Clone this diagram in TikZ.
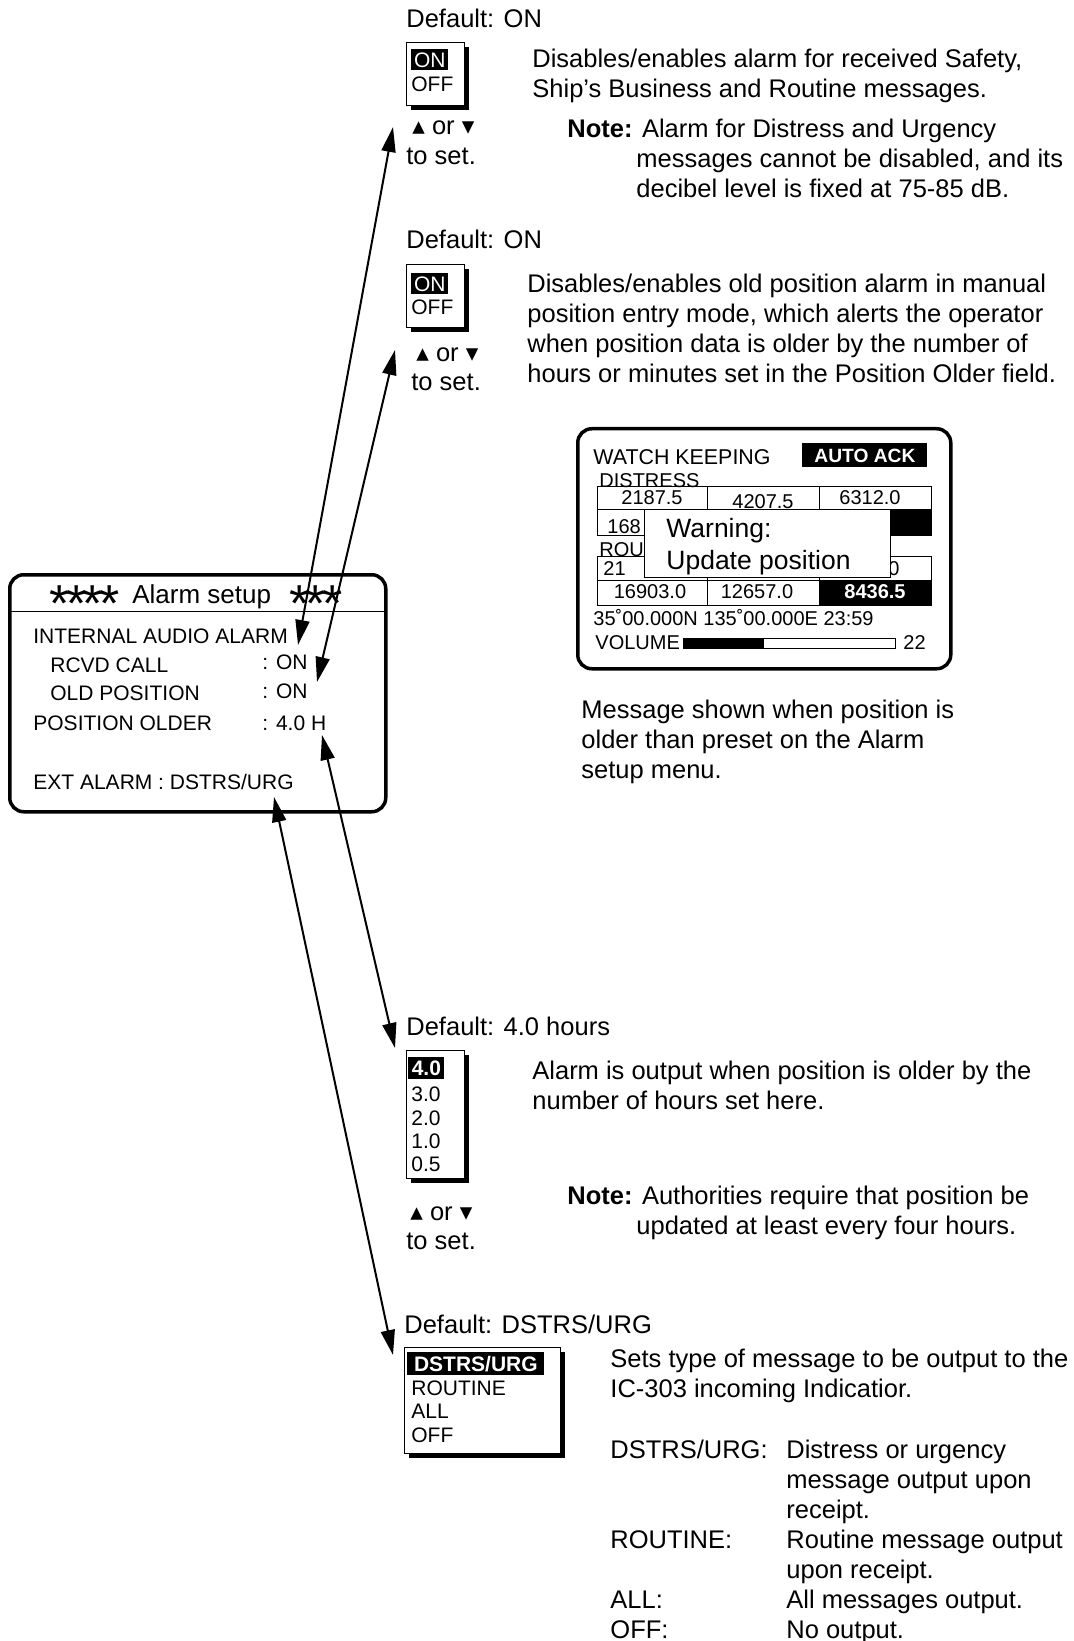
\documentclass[tikz,border=0pt]{standalone}
\usepackage{fontspec}
\setmainfont{Liberation Sans}
\newfontfamily\symfont{DejaVu Sans}
\usepackage{tikz}
\usetikzlibrary{arrows.meta, shadows}

\newcommand\upk{{\symfont\fontsize{12.5}{12.5}\selectfont ▴}}
\newcommand\dnk{{\symfont\fontsize{12.5}{12.5}\selectfont ▾}}
\newcommand\alstar{\makebox[8.35pt]{\smash{\raisebox{-9.4pt}{\fontsize{26}{26}\selectfont *}}}}

\begin{document}
\begin{tikzpicture}[
    x=0.5pt, y=-0.5pt,
    txt/.style={anchor=base west, inner sep=0pt, align=left,
                font=\fontsize{12.75}{15}\selectfont},
    scr/.style={anchor=base west, inner sep=0pt, font=\fontsize{10.5}{12}\selectfont},
    lcd/.style={anchor=base west, inner sep=0pt, font=\fontsize{10}{12}\selectfont},
    lcdc/.style={lcd, anchor=base},
    menu/.style={draw, line width=0.6pt, fill=white, anchor=north west, inner sep=0pt,
                 drop shadow={shadow xshift=2.2pt, shadow yshift=-2.2pt, fill=black, opacity=1}},
    hil/.style={fill=black, text=white, anchor=north west, inner sep=0pt,
                font=\fontsize{10.5}{12}\selectfont},
    panel/.style={draw, line width=1.75pt, rounded corners=7pt, anchor=north west, inner sep=0pt},
    arr/.style={{Triangle[length=12.5pt,width=7pt]}-{Triangle[length=12.5pt,width=7pt]}, line width=1pt}
]
\useasboundingbox (0,0) rectangle (1074,1641);

% alarm setup menu
\node[panel, minimum width=188pt, minimum height=118.5pt] (alarmbox) at (8,573) {};
\node[anchor=base west, inner sep=0pt, font=\fontsize{13}{15}\selectfont] (title) at (50.7,603)
    {\alstar\alstar\alstar\alstar\hspace{7.2pt}Alarm setup\hspace{10pt}\alstar\alstar\alstar};
\draw[line width=0.5pt] (8,611) -- (384,611);
\node[scr] (internal) at (33,643.5) {INTERNAL AUDIO ALARM};
\node[scr] (rcvd) at (50,672.5) {RCVD CALL};
\node[scr] (rcvdval) at (262,669.5) {: ON};
\node[scr] (oldpos) at (50,700.5) {OLD POSITION};
\node[scr] (oldposval) at (262,698.5) {: ON};
\node[scr] (older) at (33,730.5) {POSITION OLDER};
\node[scr] (olderval) at (262,730.5) {: 4.0 H};
\node[scr] (ext) at (33,789.5) {EXT ALARM : DSTRS/URG};

% rcvd call
\node[txt] (def1) at (406,28) {Default: ON};
\node[menu, minimum width=29pt, minimum height=31.5pt] (menu1) at (406,42) {};
\node[hil, minimum width=18.5pt, minimum height=10.5pt] (on1) at (411,49) {ON};
\node[scr] (off1) at (411,91.5) {OFF};
\node[txt] (keys1) at (412,135) {\upk\ or \dnk};
\node[txt] (set1) at (406,165) {to set.};
\node[txt] (desc1) at (532,98) {Disables/enables alarm for received Safety,\\Ship's Business and Routine messages.};
\node[txt] (note1) at (567,198) {\textbf{Note:} Alarm for Distress and Urgency\\
    \hspace*{34.5pt}messages cannot be disabled, and its\\
    \hspace*{34.5pt}decibel level is fixed at 75-85 dB.};

% old position
\node[txt] (def2) at (406,249) {Default: ON};
\node[menu, minimum width=29pt, minimum height=31.5pt] (menu2) at (406,264) {};
\node[hil, minimum width=18.5pt, minimum height=10.5pt] (on2) at (411,273) {ON};
\node[scr] (off2) at (411,314.5) {OFF};
\node[txt] (keys2) at (416,362) {\upk\ or \dnk};
\node[txt] (set2) at (411,391) {to set.};
\node[txt] (desc2) at (527,383) {Disables/enables old position alarm in manual\\
    position entry mode, which alerts the operator\\
    when position data is older by the number of\\
    hours or minutes set in the Position Older field.};

% watch keeping screen
\node[panel, minimum width=186.5pt, minimum height=120pt] (screen) at (576,427) {};
\node[lcd, font=\fontsize{10.7}{12}\selectfont] (wk) at (593,465) {WATCH KEEPING};
\node[hil, minimum width=62.5pt, minimum height=12pt, font=\fontsize{9.6}{11}\selectfont\bfseries] (ack) at (802,443) {AUTO ACK};
\node[lcd] (distress) at (599,488) {DISTRESS};
\node[lcdc] (f1) at (652,505) {2187.5};
\node[lcdc] (f2) at (763,509) {4207.5};
\node[lcdc] (f3) at (870,505) {6312.0};
\node[lcd] (f4) at (607,533) {168};
\node[lcd] (routine) at (599,556) {ROUT};
\node[lcd] (f5) at (603,575) {21};
\node[lcd, anchor=base east] (f6) at (900,575) {0};
\node[lcdc] (f7) at (650,598) {16903.0};
\node[lcdc] (f8) at (757,598) {12657.0};
\draw[line width=0.5pt] (597,487) rectangle (931,510) (707,487) -- (707,510) (819,487) -- (819,510);
\draw[line width=0.5pt] (597,510) rectangle (931,536) (707,510) -- (707,536) (819,510) -- (819,536);
\fill (819,510) rectangle (931,536);
\draw[line width=0.5pt] (597,556) rectangle (931,580) (707,556) -- (707,580) (819,556) -- (819,580);
\draw[line width=0.5pt] (597,580) rectangle (931,605) (707,580) -- (707,605);
\fill (819,580) rectangle (931,605);
\node[lcdc, text=white, font=\fontsize{10}{12}\selectfont\bfseries] (f9) at (875,598) {8436.5};
\node[draw, fill=white, line width=0.5pt, anchor=north west, inner sep=0pt,
      minimum width=123pt, minimum height=34pt] (popup) at (644,509) {};
\node[anchor=base west, inner sep=0pt, font=\fontsize{13.25}{16}\selectfont] (warn) at (666,537.5) {Warning:};
\node[anchor=base west, inner sep=0pt, font=\fontsize{13.25}{16}\selectfont] (upd) at (666,569.5) {Update position};
\node[lcd] (pos) at (593,625) {35˚00.000N 135˚00.000E 23:59};
\node[lcd] (vol) at (595,649) {VOLUME};
\draw[line width=0.5pt] (683,638) rectangle (895,648);
\fill (683,638) rectangle (764,648);
\node[lcd] (volval) at (903,649) {22};
\node[txt] (caption) at (581,778) {Message shown when position is\\older than preset on the Alarm\\setup menu.};

% position older
\node[txt] (def3) at (406,1035) {Default: 4.0 hours};
\node[menu, minimum width=29pt, minimum height=64pt] (menu3) at (406,1050) {};
\node[hil, minimum width=18pt, minimum height=11pt, font=\fontsize{10.5}{12}\selectfont\bfseries] (h4) at (408,1057) {4.0};
\node[scr] (h3) at (411,1101.5) {3.0};
\node[scr] (h2) at (411,1125.5) {2.0};
\node[scr] (h1) at (411,1148.5) {1.0};
\node[scr] (h05) at (411,1171.5) {0.5};
\node[txt] (keys3) at (410,1220) {\upk\ or \dnk};
\node[txt] (set3) at (406,1249) {to set.};
\node[txt] (desc3) at (532,1109) {Alarm is output when position is older by the\\number of hours set here.};
\node[txt] (note3) at (567,1234) {\textbf{Note:} Authorities require that position be\\
    \hspace*{34.5pt}updated at least every four hours.};

% ext alarm
\node[txt] (def4) at (404,1333) {Default: DSTRS/URG};
\node[menu, minimum width=78pt, minimum height=53pt] (menu4) at (404,1347) {};
\node[hil, minimum width=68.5pt, minimum height=11.5pt, font=\fontsize{10.5}{12}\selectfont\bfseries] (xdst) at (407,1352) {DSTRS/URG};
\node[scr] (xrou) at (411,1395.5) {ROUTINE};
\node[scr] (xall) at (411,1418.5) {ALL};
\node[scr] (xoff) at (411,1442.5) {OFF};
\node[txt] (desc4) at (610,1397) {Sets type of message to be output to the\\IC-303 incoming Indicatior.};
\node[txt] (k1) at (610,1458) {DSTRS/URG:};
\node[txt] (k2) at (610,1548) {ROUTINE:};
\node[txt] (k3) at (610,1608) {ALL:};
\node[txt] (k4) at (610,1638) {OFF:};
\node[txt] (kdesc) at (786,1638) {Distress or urgency\\message output upon\\receipt.\\Routine message output\\upon receipt.\\All messages output.\\No output.};

% arrows
\coordinate (a1top) at (393,127);
\coordinate (a1end) at (298,645);
\coordinate (a2top) at (395,350);
\coordinate (a2end) at (317,682);
\coordinate (a3top) at (322,735);
\coordinate (a3end) at (395,1048);
\coordinate (a4top) at (274,797);
\coordinate (a4end) at (393,1355);
\draw[arr] (a1end) -- (a1top);
\draw[arr] (a2end) -- (a2top);
\draw[arr] (a3top) -- (a3end);
\draw[arr] (a4top) -- (a4end);
\end{tikzpicture}
\end{document}
